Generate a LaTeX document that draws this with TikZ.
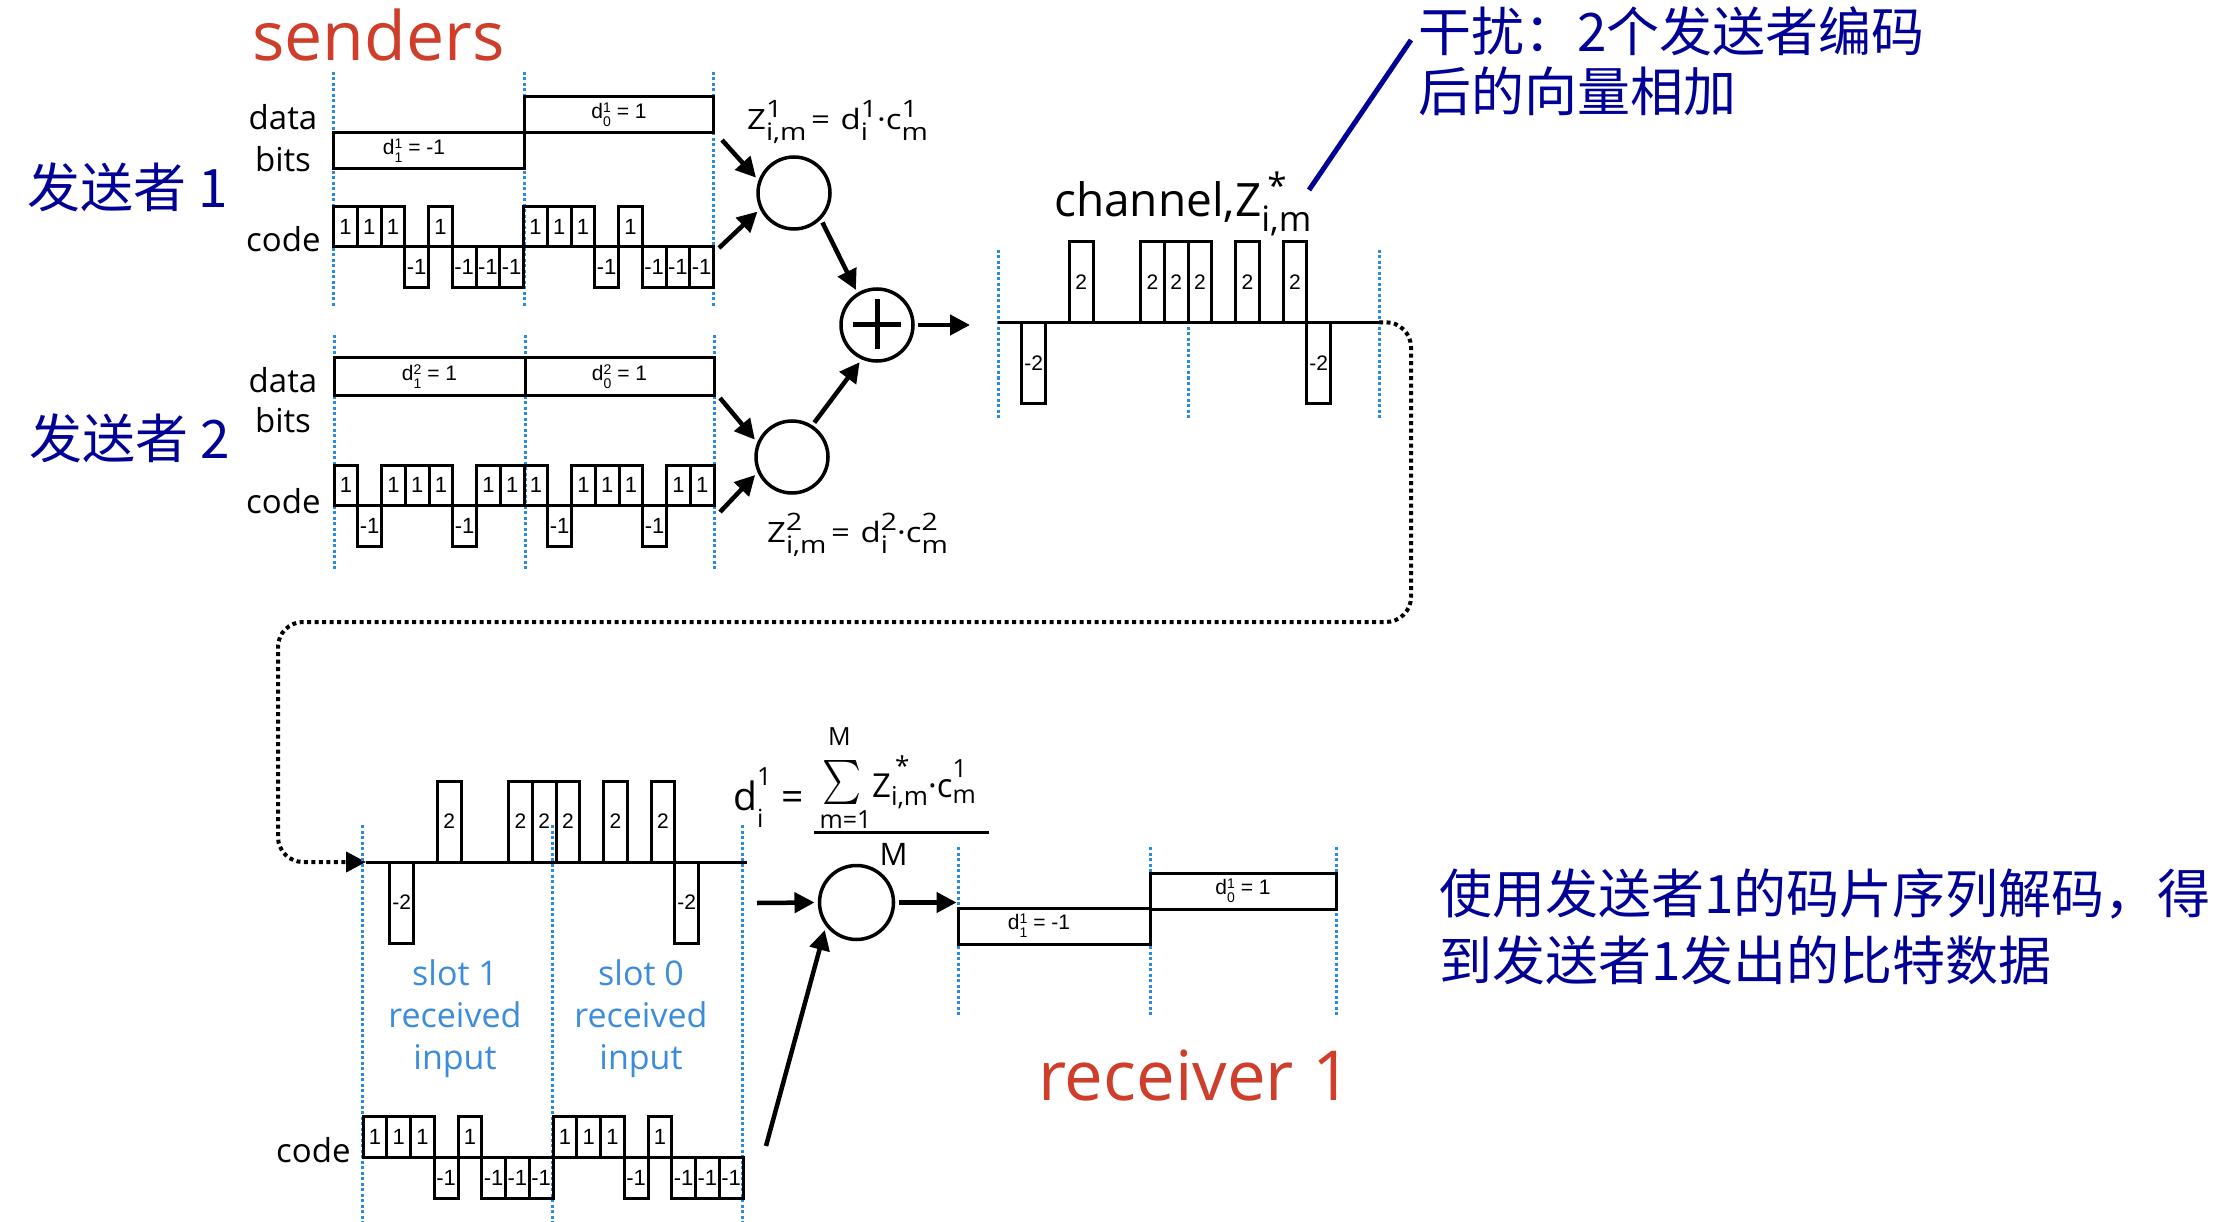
\documentclass[tikz,border=0pt]{standalone}
\usepackage{fontspec}
\usepackage{graphicx}
\setmainfont{Open Sans}
\newfontfamily\cjk{Noto Sans CJK SC}
\newfontfamily\arial{Liberation Sans}
\usetikzlibrary{arrows.meta}
\definecolor{navy}{RGB}{0,0,150}
\definecolor{dred}{RGB}{206,62,42}
\definecolor{dotblue}{RGB}{40,140,225}
\definecolor{slotblue}{RGB}{60,140,220}
\newcommand\fsz[1]{\fontsize{#1}{#1}\selectfont}
% size, raise, lower, sup, sub
\newcommand\supsb[5]{{\fontsize{#1}{#1}\selectfont
  \setbox0=\hbox{#4}\setbox2=\hbox{#5}%
  \ifdim\wd0>\wd2 \dimen0=\wd0 \else\dimen0=\wd2 \fi
  \hbox to\dimen0{\rlap{\raise#2\box0}\lower#3\box2\hss}}}
\def\chipw{23.75}
% prefix, x0, base, unit height, values, label size
\newcommand\wave[6]{%
  \foreach \v [count=\i from 0] in {#5}{%
    \ifnum\v=0 \else
      \pgfmathsetmacro\xa{#2+\i*\chipw}%
      \pgfmathsetmacro\yt{#3-\v*#4}%
      \draw[chip] (\xa,#3) rectangle (\xa+\chipw,\yt);
      \node[chiplbl,font=\arial\fsz{#6}] (#1\i) at ({\xa+\chipw/2},{(#3+\yt)/2}) {\v};
    \fi}}
\begin{document}
\begin{tikzpicture}[x=1pt,y=-1pt,
  chip/.style={draw, line width=3pt},
  chiplbl/.style={inner sep=0},
  blueline/.style={draw=dotblue, line width=3pt, dash pattern=on 3pt off 2.5pt},
  databox/.style={draw, line width=3pt, inner sep=0, font=\arial\fsz{21}},
  arr/.style={line width=4.5pt, -{Triangle[length=20pt,width=20pt]}},
  mult/.style={circle, draw, line width=3.5pt, minimum size=72pt, inner sep=0, outer sep=5pt},
  lbl/.style={inner sep=0, font=\fsz{33}},
  slot/.style={inner sep=0, font=\fsz{34}, text=slotblue, anchor=base},
  zh/.style={anchor=base west, inner sep=0, font=\cjk\fsz{53}, text=navy},
  fml/.style={anchor=base west, inner sep=0}]
\useasboundingbox[fill=white] (0,0) rectangle (2232,1222);

% ---------- titles ----------
\node[anchor=base west, inner sep=0, font=\fsz{68}, text=dred] (snd) at (252,61) {senders};
\node[anchor=base west, inner sep=0, font=\fsz{69}, text=dred] (rcv) at (1038,1100) {receiver 1};
\node[zh] (zhs1) at (27,208) {发送者 1};
\node[zh] (zhs2) at (29,458) {发送者 2};
\node[zh] (zhi1) at (1418,52) {干扰：2个发送者编码};
\node[zh] (zhi2) at (1418,112) {后的向量相加};
\node[zh] (zhr1) at (1439,913) {使用发送者1的码片序列解码，得};
\node[zh] (zhr2) at (1439,980) {到发送者1发出的比特数据};
\coordinate (annA) at (1411,40);
\coordinate (annB) at (1309,190);
\draw[navy, line width=5pt] (annA) -- (annB);

% ---------- sender 1 ----------
\foreach \x in {333.5,524.5,713.5} \draw[blueline] (\x,72) -- (\x,307);
\node[lbl, anchor=base] (s1data) at (283,130) {data};
\node[lbl, anchor=base] (s1bits) at (283,172) {bits};
\node[lbl, anchor=base west] (s1code) at (246,252) {code};
\node[databox, minimum width=191pt, minimum height=36pt] (s1d1) at (429,151) {d\supsb{14}{6pt}{8pt}{1}{1} = -1\hspace*{30pt}};
\node[databox, minimum width=189pt, minimum height=36pt] (s1d0) at (619,115) {d\supsb{14}{6pt}{8pt}{1}{0} = 1};
\draw[chip] (333.5,246.7) -- (713.5,246.7);
\wave{s1c}{333.5}{246.7}{40.5}{1,1,1,-1,1,-1,-1,-1,1,1,1,-1,1,-1,-1,-1}{22}

% ---------- sender 2 ----------
\foreach \x in {334,525.5,714} \draw[blueline] (\x,335) -- (\x,570);
\node[lbl, anchor=base] (s2data) at (283,392) {data};
\node[lbl, anchor=base] (s2bits) at (283,432) {bits};
\node[lbl, anchor=base west] (s2code) at (246,513) {code};
\node[databox, minimum width=191pt, minimum height=37pt] (s2d1) at (429.5,376.5) {d\supsb{14}{6pt}{8pt}{2}{1} = 1};
\node[databox, minimum width=189pt, minimum height=37pt] (s2d0) at (619.5,376.5) {d\supsb{14}{6pt}{8pt}{2}{0} = 1};
\draw[chip] (334,505.5) -- (714,505.5);
\wave{s2c}{334}{505.5}{40.5}{1,-1,1,1,1,-1,1,1,1,-1,1,1,1,-1,1,1}{22}

% ---------- encoders and sum ----------
\node[mult] (m1) at (794,193) {};
\node[mult] (m2) at (792,457) {};
\node[mult] (sum) at (877,325) {};
\draw[line width=5pt] (sum.center) +(-24,0) -- +(24,0);
\draw[line width=5pt] (sum.center) +(0,-26) -- +(0,24);
\coordinate (a1s) at (722,140);
\coordinate (a2s) at (719,248);
\coordinate (a6s) at (720,398);
\coordinate (a7s) at (720,512);
\coordinate (chin) at (970,325);
\draw[arr] (a1s) -- (m1.158);
\draw[arr] (a2s) -- (m1.207);
\draw[arr] (a6s) -- (m2.155);
\draw[arr] (a7s) -- (m2.206);
\draw[arr] (m1.314) -- (sum.121);
\draw[arr] (m2.57) -- (sum.245);
\draw[arr] (sum.0) -- (chin);
\node[fml, font=\fsz{28}] (z1) at (747,130) {\scalebox{1.18}[1]{Z\supsb{24}{12pt}{11pt}{1}{i,m}\hspace{4pt}=\hspace{9pt}d\supsb{24}{12pt}{11pt}{1}{i}·c\supsb{24}{12pt}{11pt}{1}{m}}};
\node[fml, font=\fsz{28}] (z2) at (767,542) {\scalebox{1.18}[1]{Z\supsb{24}{12pt}{11pt}{2}{i,m}\hspace{4pt}=\hspace{9pt}d\supsb{24}{12pt}{11pt}{2}{i}·c\supsb{24}{12pt}{11pt}{2}{m}}};

% ---------- channel ----------
\node[fml, font=\fsz{46}] (chl) at (1054,217) {channel,Z\supsb{35}{18pt}{15pt}{\hspace*{6pt}*}{i,m}};
\foreach \x in {998,1188,1379} \draw[blueline] (\x,250) -- (\x,420);
\draw[chip] (998,322.3) -- (1379,322.3);
\wave{ch}{998}{322.3}{40.5}{0,-2,0,2,0,0,2,2,2,0,2,0,2,-2,0,0}{21}

% ---------- channel to receiver ----------
\coordinate (chend) at (1379,322.3);
\coordinate (rvin) at (366,862);
\draw[line width=4pt, dash pattern=on 4pt off 3.5pt, rounded corners=25pt,
  -{Triangle[length=20pt,width=20pt]}]
  (chend) -- (1411,322.3) -- (1411,622) -- (278,622) -- (278,862) -- (rvin);

% ---------- receiver ----------
\foreach \x in {362.5,552.5,742.5} \draw[blueline] (\x,825) -- (\x,1222);
\draw[chip] (366,862) -- (746.5,862);
\wave{rv}{366}{862}{40.5}{0,-2,0,2,0,0,2,2,2,0,2,0,2,-2,0,0}{21}
\node[slot] (sl1a) at (455,985) {slot 1};
\node[slot] (sl1b) at (455,1027) {received};
\node[slot] (sl1c) at (455,1069) {input};
\node[slot] (sl0a) at (641,985) {slot 0};
\node[slot] (sl0b) at (641,1027) {received};
\node[slot] (sl0c) at (641,1069) {input};
\node[lbl, anchor=base west] (rcode) at (276,1162) {code};
\draw[chip] (363,1157) -- (743,1157);
\wave{rc}{363}{1157}{41}{1,1,1,-1,1,-1,-1,-1,1,1,1,-1,1,-1,-1,-1}{22}

% decoder formula
\node[fml, font=\fsz{39}] (dfl) at (733,810) {d\supsb{25}{25pt}{17pt}{1}{i} =};
\node[inner sep=0] (sig) at (841.5,782) {\resizebox*{39pt}{44pt}{$\sum$}};
\node[inner sep=0, font=\fsz{25}, anchor=base] (sigM) at (839.5,745) {M};
\node[inner sep=0, font=\fsz{25}, anchor=base] (sigm) at (845.5,828) {m=1};
\node[fml, font=\fsz{33}] (dfz) at (872,797) {Z\supsb{26}{22pt}{8pt}{\hspace*{4pt}*}{i,m}·c\supsb{25}{20pt}{6pt}{1}{m}};
\coordinate (frA) at (814,832);
\coordinate (frB) at (989,832);
\draw[line width=3pt] (frA) -- (frB);
\node[inner sep=0, font=\fsz{31}, anchor=base] (denM) at (893.5,865) {M};

\node[mult, minimum size=74pt] (rx) at (856.5,902.5) {};
\coordinate (rxin) at (757,903);
\coordinate (rcout) at (766,1146);
\foreach \x in {958,1150,1336} \draw[blueline] (\x,847) -- (\x,1017);
\node[databox, minimum width=192pt, minimum height=36pt] (r1d1) at (1054,926) {d\supsb{14}{6pt}{8pt}{1}{1} = -1\hspace*{30pt}};
\node[databox, minimum width=186pt, minimum height=36pt] (r1d0) at (1243,891) {d\supsb{14}{6pt}{8pt}{1}{0} = 1};
\draw[arr] (rxin) -- (rx.180);
\draw[arr] (rx.0) -- (rx.0 -| r1d1.west);
\draw[arr] (rcout) -- (rx.221);
\end{tikzpicture}
\end{document}
